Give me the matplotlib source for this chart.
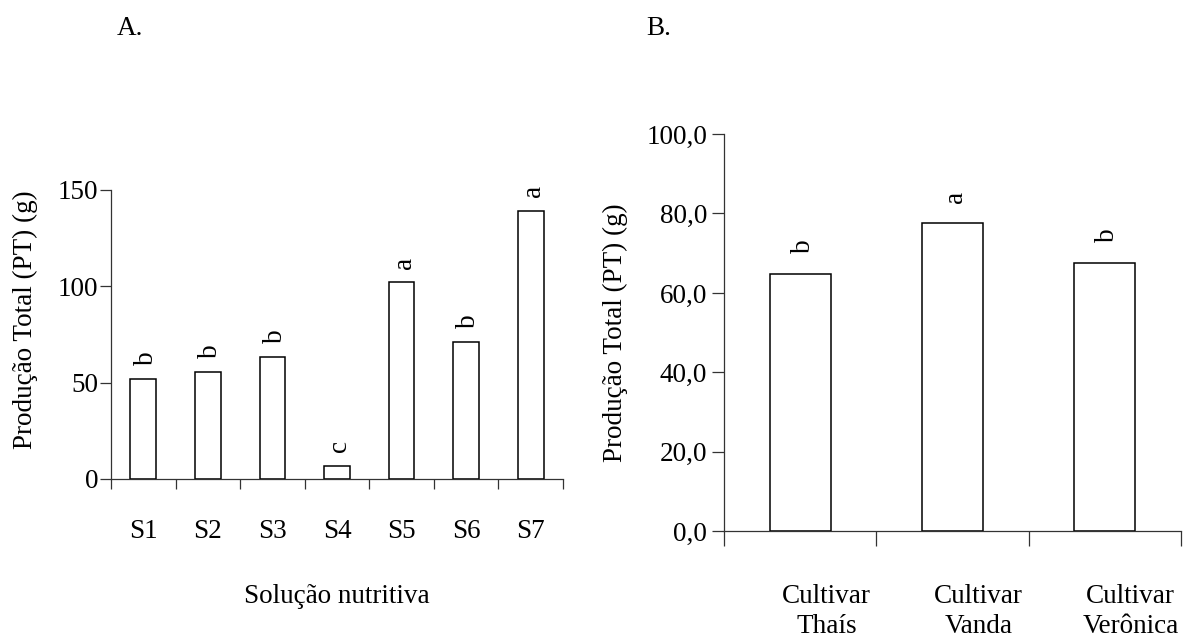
import matplotlib
matplotlib.use("Agg")
import matplotlib.pyplot as plt
from matplotlib.ticker import FixedLocator, FuncFormatter
import matplotlib.transforms as mtransforms

plt.rcParams['font.family'] = ['Liberation Serif', 'DejaVu Serif']
plt.rcParams['font.size'] = 19.5

# === Data
sol_labels = ["S1", "S2", "S3", "S4", "S5", "S6", "S7"]
sol_values = [52.0, 55.5, 63.5, 7.0, 102.0, 71.3, 139.0]
sol_letters = ["b", "b", "b", "c", "a", "b", "a"]

cult_labels = ["Cultivar\nThaís", "Cultivar\nVanda", "Cultivar\nVerônica"]
cult_values = [64.7, 77.5, 67.6]
cult_letters = ["b", "a", "b"]

line_col = "#333333"

fig = plt.figure(figsize=(11.87, 6.39), dpi=100)

# === helper for the common axis style
def style_axes(ax, n, ylim, yticks, xtick_len, ytick_len, label_pad, ylab_pad):
    for s in ["top", "right"]:
        ax.spines[s].set_visible(False)
    for s in ["left", "bottom"]:
        ax.spines[s].set_color(line_col)
        ax.spines[s].set_linewidth(0.9)
    ax.set_xlim(-0.5, n - 0.5)
    ax.set_ylim(*ylim)
    ax.set_yticks(yticks)
    ax.tick_params(axis="y", direction="out", length=ytick_len, width=0.9,
                   color=line_col, pad=ylab_pad)
    # slot boundaries get the visible ticks, centers carry the labels
    ax.xaxis.set_minor_locator(FixedLocator([i - 0.5 for i in range(n + 1)]))
    ax.tick_params(axis="x", which="minor", direction="out", length=xtick_len,
                   width=0.9, color=line_col)
    ax.tick_params(axis="x", which="major", length=0, pad=label_pad)


# === Panel A
axA = fig.add_axes([0.0935, 0.2504, 0.3808, 0.4523])
xa = list(range(len(sol_values)))
axA.bar(xa, sol_values, width=0.4, facecolor="white", edgecolor="black", linewidth=1.1)
style_axes(axA, len(sol_values), (0, 150), [0, 50, 100, 150], 7.2, 8.0, 29, 1)
axA.set_xticks(xa)
axA.set_xticklabels(sol_labels)
for x, v, l in zip(xa, sol_values, sol_letters):
    axA.annotate(l, (x, v), xytext=(2, 10), textcoords="offset points",
                 rotation=90, ha="center", va="bottom")
axA.set_ylabel("Produção Total (PT) (g)")
axA.yaxis.set_label_coords(-0.161, 0.55)
axA.set_xlabel("Solução nutritiva")
axA.xaxis.set_label_coords(0.5, -0.365)
axA.xaxis.label.set_va("top")

# === Panel B
axB = fig.add_axes([0.6102, 0.1685, 0.3845, 0.6218])
xb = list(range(len(cult_values)))
axB.bar(xb, cult_values, width=0.4, facecolor="white", edgecolor="black", linewidth=1.1)
style_axes(axB, len(cult_values), (0, 100), [0, 20, 40, 60, 80, 100], 10.8, 8.4, 38, 4)
axB.yaxis.set_major_formatter(FuncFormatter(lambda v, p: f"{v:.1f}".replace(".", ",")))
axB.set_xticks(xb)
axB.set_xticklabels(cult_labels, linespacing=1.25)
shift = mtransforms.ScaledTranslation(26 / 100, 0, fig.dpi_scale_trans)
for lab in axB.get_xticklabels():
    lab.set_transform(lab.get_transform() + shift)
for x, v, l in zip(xb, cult_values, cult_letters):
    axB.annotate(l, (x, v), xytext=(2, 15), textcoords="offset points",
                 rotation=90, ha="center", va="bottom")
axB.set_ylabel("Produção Total (PT) (g)")
axB.yaxis.set_label_coords(-0.211, 0.5)

# === Panel titles
fig.text(117 / 1187, 1 - 35 / 639, "A.", ha="left", va="baseline")
fig.text(646 / 1187, 1 - 35 / 639, "B.", ha="left", va="baseline")

fig.savefig("out.png", dpi=100)
